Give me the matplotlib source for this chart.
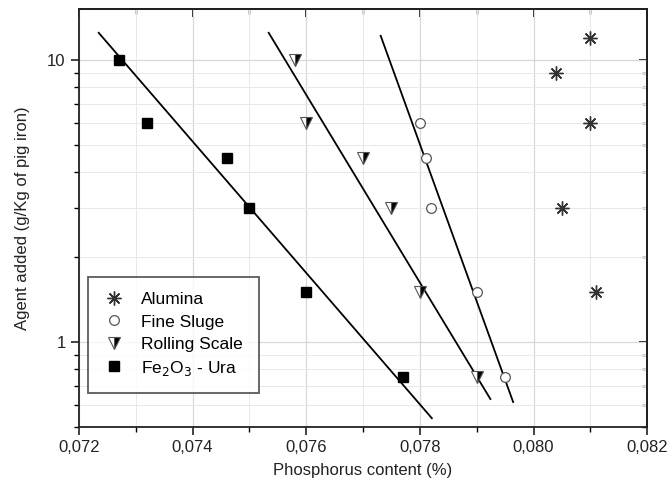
import numpy as np
import matplotlib.pyplot as plt
from matplotlib.ticker import FixedLocator, FuncFormatter, LogLocator, NullFormatter

plt.rcParams['font.family'] = ['Liberation Sans', 'DejaVu Sans']

# data
alumina_x = [0.0810, 0.0804, 0.0810, 0.0805, 0.0811]
alumina_y = [12, 9, 6, 3, 1.5]
sludge_x = [0.0780, 0.0781, 0.0782, 0.0790, 0.0795]
sludge_y = [6, 4.5, 3, 1.5, 0.75]
scale_x = [0.0758, 0.0760, 0.0770, 0.0775, 0.0780, 0.0790]
scale_y = [10, 6, 4.5, 3, 1.5, 0.75]
fe_x = [0.0727, 0.0732, 0.0746, 0.0750, 0.0760, 0.0777]
fe_y = [10, 6, 4.5, 3, 1.5, 0.75]

# fitted line end points
fe_fit_x = [0.07235, 0.07821]
fe_fit_y = [12.5, 0.537]
scale_fit_x = [0.07534, 0.07924]
scale_fit_y = [12.5, 0.628]
sludge_fit_x = [0.07731, 0.07964]
sludge_fit_y = [12.2, 0.613]

fig = plt.figure(figsize=(6.68, 4.93), dpi=100)
ax = fig.add_axes([0.118, 0.134, 0.851, 0.848])
ax.set_yscale('log')
ax.set_xlim(0.072, 0.082)
ax.set_ylim(0.5, 15.2)

ax.plot(fe_fit_x, fe_fit_y, color='black', lw=1.3, zorder=2)
ax.plot(scale_fit_x, scale_fit_y, color='black', lw=1.3, zorder=2)
ax.plot(sludge_fit_x, sludge_fit_y, color='black', lw=1.3, zorder=2)

ax.plot(alumina_x, alumina_y, ls='none', marker=(8, 2, 0), ms=10, mec='#333333', mew=1.0,
        label='Alumina', zorder=3)
ax.plot(sludge_x, sludge_y, ls='none', marker='o', ms=7, mfc='white', mec='#555555', mew=0.9,
        label='Fine Sluge', zorder=3)
ax.plot(scale_x, scale_y, ls='none', marker='v', ms=8, fillstyle='right', mfc='black',
        markerfacecoloralt='white', mec='#555555', mew=0.8, label='Rolling Scale', zorder=3)
ax.plot(fe_x, fe_y, ls='none', marker='s', ms=6.5, color='black', label='Fe$_2$O$_3$ - Ura',
        zorder=3)

# ticks
ax.xaxis.set_major_locator(FixedLocator([0.072, 0.074, 0.076, 0.078, 0.080, 0.082]))
ax.xaxis.set_minor_locator(FixedLocator([0.073, 0.075, 0.077, 0.079, 0.081]))
ax.xaxis.set_major_formatter(FuncFormatter(lambda v, p: f'{v:.3f}'.replace('.', ',')))
ax.yaxis.set_major_locator(FixedLocator([1, 10]))
ax.yaxis.set_major_formatter(FuncFormatter(lambda v, p: f'{v:g}'))
ax.yaxis.set_minor_locator(LogLocator(base=10, subs=np.arange(2, 10)))
ax.yaxis.set_minor_formatter(NullFormatter())
ax.tick_params(which='major', direction='out', length=6, width=1.2, labelsize=12, colors='#222222')
ax.tick_params(which='minor', direction='out', length=3.5, width=1.0)

ax.grid(True, which='major', color='#d8d8d8', lw=0.9)
ax.grid(True, which='minor', color='#e8e8e8', lw=0.7)
ax.set_axisbelow(True)

top = ax.secondary_xaxis('top')
top.xaxis.set_major_locator(FixedLocator([0.072, 0.074, 0.076, 0.078, 0.080, 0.082]))
top.xaxis.set_minor_locator(FixedLocator([0.073, 0.075, 0.077, 0.079, 0.081]))
top.tick_params(which='major', direction='in', length=6, width=1.2, labeltop=False)
top.tick_params(which='minor', direction='in', length=3.5, width=1.0)
right = ax.secondary_yaxis('right', functions=(lambda v: v, lambda v: v))
right.yaxis.set_major_locator(FixedLocator([1, 10]))
right.yaxis.set_minor_locator(LogLocator(base=10, subs=np.arange(2, 10)))
right.tick_params(which='major', direction='in', length=6, width=1.2, labelright=False)
right.tick_params(which='minor', direction='in', length=3.5, width=1.0, labelright=False)
right.yaxis.set_minor_formatter(NullFormatter())

for s in ax.spines.values():
    s.set_linewidth(1.3)
    s.set_color('#222222')
top.spines['top'].set_linewidth(1.3)
right.spines['right'].set_linewidth(1.3)

ax.set_xlabel('Phosphorus content (%)', fontsize=12, color='#222222', labelpad=6)
ax.set_ylabel('Agent added (g/Kg of pig iron)', fontsize=12, color='#222222', labelpad=12)

leg = ax.legend(loc='lower left', bbox_to_anchor=(0.0, 0.06), fontsize=12.5, frameon=True,
                fancybox=False, edgecolor='#333333', handletextpad=1.0, borderpad=0.9,
                labelspacing=0.4, handlelength=1.2)
leg.get_frame().set_linewidth(1.3)

plt.savefig('out.png', dpi=100)
